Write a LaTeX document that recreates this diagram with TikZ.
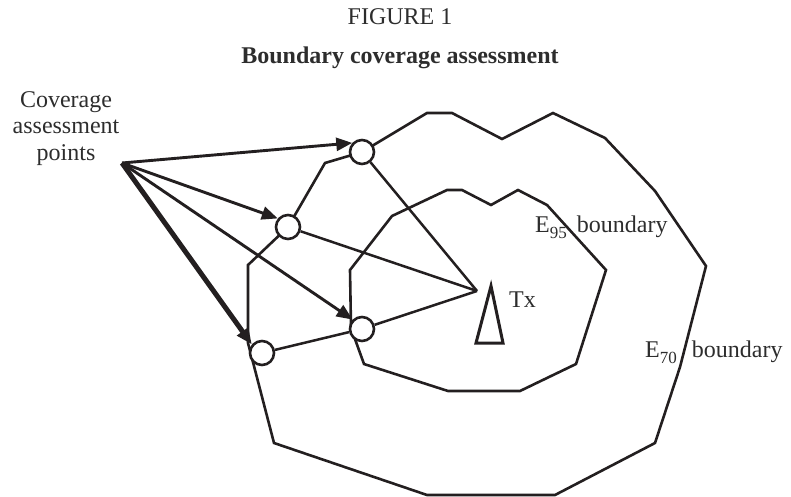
\documentclass[tikz,border=0pt]{standalone}
\usepackage{fontspec}
\setmainfont{Liberation Serif}
\usetikzlibrary{positioning,arrows.meta,calc}
\definecolor{inkblack}{RGB}{35,31,32}
\definecolor{labelgray}{RGB}{45,45,45}
\newcommand{\lowsub}[1]{\raisebox{-6pt}{\fontsize{17}{17}\selectfont #1}}

\begin{document}
\begin{tikzpicture}[x=1pt, y=-1pt, >={Triangle[length=16pt,width=13pt]},
    every node/.style={font=\fontsize{24}{26.5}\selectfont, text=labelgray, inner sep=0pt},
    bnd/.style={draw=inkblack, line width=2.6pt},
    apoint/.style={circle, draw=inkblack, fill=white, line width=2.6pt, minimum size=24pt},
    linkln/.style={draw=inkblack, line width=2.5pt},
    ptarrow/.style={draw=inkblack, fill=inkblack, line width=2.9pt}]
  \useasboundingbox (0,0) rectangle (791,497);

  \node[anchor=base] (fig) at (400,25) {FIGURE 1};
  \node[anchor=base, font=\fontsize{24}{26.5}\selectfont\bfseries] (title)
      at (400,64) {Boundary coverage assessment};

  % E70 and E95 boundaries
  \draw[bnd] (362,152) -- (427,113) -- (452,113) -- (502,139) -- (553,113)
    -- (605,138) -- (655,191) -- (706,266) -- (680,367) -- (655,443)
    -- (555,495) -- (427,495) -- (274,443) -- (248,343) -- (248,265)
    -- (288,227) -- (325,163) -- cycle;
  \draw[bnd] (447,190) -- (462,190) -- (491,205) -- (518,190) -- (547,205)
    -- (606,270) -- (576,364) -- (520,391) -- (448,391) -- (364,364)
    -- (351,328) -- (350,270) -- (392,216) -- cycle;

  % transmitter
  \coordinate (tx) at (477,291);
  \draw[draw=inkblack, line width=3pt] (476,343) -- (491,286) -- (503,343) -- cycle;
  \node[anchor=base west] (txlbl) at (509,307) {Tx};

  \node[anchor=base west] (e95) at (535,232) {E\lowsub{95}\hspace{10pt}boundary};
  \node[anchor=base west] (e70) at (645,357) {E\lowsub{70}\hspace{15pt}boundary};

  % assessment points
  \node[apoint] (p1) at (362,152) {};
  \node[apoint] (p2) at (288,227) {};
  \node[apoint] (p3) at (262,353) {};
  \node[apoint] (p4) at (362,329) {};

  \draw[linkln] (p1) -- (tx);
  \draw[linkln] (p2) -- (tx);
  \draw[linkln] (p3) -- (p4);
  \draw[linkln] (p4) -- (tx);

  \node[align=center, anchor=north] (lbl) at (66,91) {Coverage\\assessment\\points};
  \coordinate (src) at (122,163);

  \draw[->, ptarrow] (src) -- (p1.137);
  \draw[->, ptarrow] (src) -- (p2.140);
  \draw[->, ptarrow] (src) -- (p4.135);
  \draw[->, ptarrow, line width=5pt] (src) -- (p3.140);
\end{tikzpicture}
\end{document}
